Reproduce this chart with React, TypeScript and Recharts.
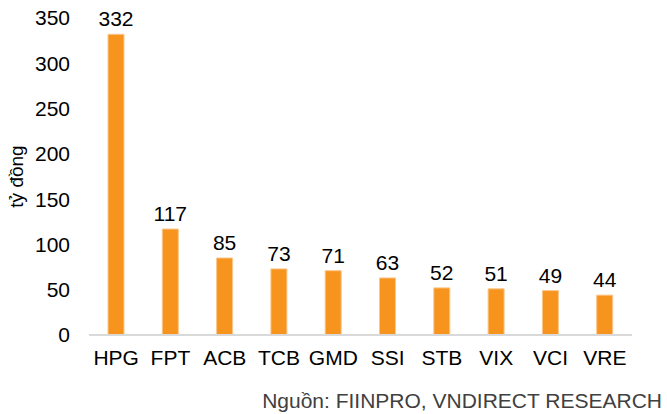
import { Bar, BarChart, LabelList, XAxis, YAxis } from 'recharts'

const tickers = ['HPG', 'FPT', 'ACB', 'TCB', 'GMD', 'SSI', 'STB', 'VIX', 'VCI', 'VRE']
const values = [332, 117, 85, 73, 71, 63, 52, 51, 49, 44]
const yTicks = [0, 50, 100, 150, 200, 250, 300, 350]

const data = tickers.map((name, i) => ({ name, value: values[i] }))

const font = '"Liberation Sans", Arial, sans-serif'

const YTitle = ({ viewBox }: any) => {
  const x = 16
  const y = viewBox.y + viewBox.height / 2
  return (
    <text
      x={x}
      y={y}
      transform={`rotate(-90 ${x} ${y})`}
      textAnchor="middle"
      dominantBaseline="central"
      fontSize={19}
      fill="#000"
      fontFamily={font}
    >
      tỷ đồng
    </text>
  )
}

const App = () => {
  return (
    <div style={{ position: 'relative', width: 667, height: 414, fontFamily: font, background: '#fff' }}>
      <style>{'body{margin:0}'}</style>
      <BarChart width={667} height={414} data={data} margin={{ top: 18, right: 35, bottom: 39, left: 0 }}>
        <XAxis
          dataKey="name"
          axisLine={{ stroke: '#d9d9d9', strokeWidth: 2 }}
          tickLine={false}
          tickSize={0}
          tickMargin={15}
          height={40}
          tick={{ fill: '#000', fontSize: 21, fontFamily: font }}
          interval={0}
        />
        <YAxis
          domain={[0, 350]}
          ticks={yTicks}
          axisLine={false}
          tickLine={false}
          tickSize={0}
          tickMargin={19}
          width={89}
          tick={{ fill: '#000', fontSize: 21, fontFamily: font }}
          label={{ content: <YTitle /> } as any}
        />
        <Bar dataKey="value" fill="#F7941D" stroke="#FBC68A" strokeWidth={1} barSize={16} isAnimationActive={false}>
          <LabelList dataKey="value" position="top" offset={8} fill="#000" fontSize={21} fontFamily={font} />
        </Bar>
      </BarChart>
      <div
        style={{
          position: 'absolute',
          right: 5,
          top: 389,
          fontSize: 21,
          color: '#404040',
          whiteSpace: 'nowrap',
        }}
      >
        Nguồn: FIINPRO, VNDIRECT RESEARCH
      </div>
    </div>
  )
}

export default App
